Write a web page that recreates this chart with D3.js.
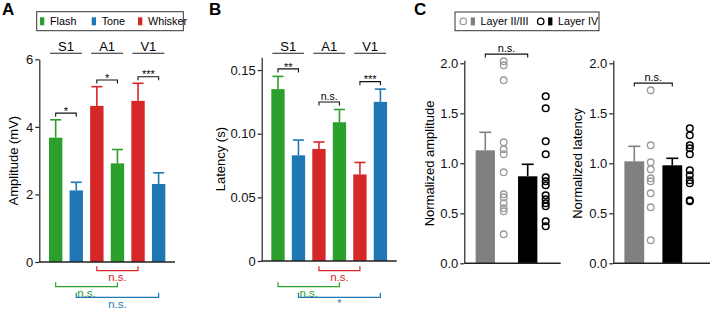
<!DOCTYPE html>
<html>
<head>
<meta charset="utf-8">
<script src="https://cdn.jsdelivr.net/npm/d3@7"></script>
<style>
  body { margin: 0; background: #fff; }
  svg { font-family: "Liberation Sans", Arial, sans-serif; }
</style>
</head>
<body>
<script>
// ---- data ----
var areas = ["S1", "S1", "A1", "A1", "V1", "V1"];
var stimuli = ["Flash", "Tone", "Whisker", "Flash", "Whisker", "Tone"];
var legendA = ["Flash", "Tone", "Whisker"];

var ampMean = [3.68, 2.12, 4.62, 2.92, 4.77, 2.31];
var ampSem = [0.53, 0.24, 0.57, 0.41, 0.52, 0.33];
var latMean = [0.135, 0.083, 0.088, 0.109, 0.068, 0.125];
var latSem = [0.010, 0.012, 0.0055, 0.010, 0.0094, 0.010];

var ampTicks = [0, 2, 4, 6];
var latTicks = [0, 0.05, 0.10, 0.15];
var normTicks = [0, 0.5, 1.0, 1.5, 2.0];

// within-area comparisons (S1, A1, V1)
var sigAmp = ["*", "*", "***"];
var sigLat = ["**", "n.s.", "***"];
// across-area comparisons: [bar from, bar to, stimulus, label]
var crossAmp = [[2, 4, "Whisker", "n.s."], [0, 3, "Flash", "n.s."], [1, 5, "Tone", "n.s."]];
var crossLat = [[2, 4, "Whisker", "n.s."], [0, 3, "Flash", "n.s."], [1, 5, "Tone", "*"]];

var layers = ["Layer II/III", "Layer IV"];
var normAmpMean = [1.13, 0.87];
var normAmpSem = [0.18, 0.12];
var normLatMean = [1.02, 0.98];
var normLatSem = [0.15, 0.07];
var ampL23 = [2.02, 1.98, 1.83, 1.21, 1.14, 1.09, 0.91, 0.69, 0.66, 0.60, 0.55, 0.52, 0.29];
var ampL4 = [1.67, 1.55, 1.22, 1.09, 0.86, 0.82, 0.78, 0.68, 0.64, 0.60, 0.57, 0.42, 0.37];
var latL23 = [1.73, 1.18, 1.01, 0.94, 0.85, 0.82, 0.70, 0.56, 0.23];
var latL4 = [1.35, 1.28, 1.18, 1.15, 1.09, 0.93, 0.88, 0.83, 0.80, 0.63, 0.62];

var color = d3.scaleOrdinal()
    .domain(["Flash", "Tone", "Whisker"])
    .range(["#2ca02c", "#1f77b4", "#d62728"]);
var layerFill = d3.scaleOrdinal().domain(layers).range(["#808080", "#000000"]);
var layerStroke = d3.scaleOrdinal().domain(layers).range(["#9a9a9a", "#000000"]);

var svg = d3.select("body").append("svg")
    .attr("width", 710)
    .attr("height", 309);

var axisColor = "#222";

function panelLetter(txt, x) {
    svg.append("text").attr("x", x).attr("y", 15)
        .attr("font-size", 17).attr("font-weight", "bold").text(txt);
}

function yAxis(y, x, ticks, fmt) {
    var ax = svg.append("g")
        .attr("transform", "translate(" + x + ",0)")
        .call(d3.axisLeft(y).tickValues(ticks).tickFormat(fmt)
            .tickSize(4).tickPadding(2).tickSizeOuter(0));
    ax.selectAll("path,line").attr("stroke", axisColor).attr("stroke-width", 1.2);
    ax.selectAll("text").attr("font-size", 13).attr("fill", "#111")
        .attr("font-family", "Liberation Sans, Arial, sans-serif");
    return ax;
}

function yTitle(txt, x, yc) {
    svg.append("text")
        .attr("transform", "translate(" + x + "," + yc + ") rotate(-90)")
        .attr("text-anchor", "middle").attr("font-size", 13).text(txt);
}

function bracketDown(x1, x2, yy, col) {
    svg.append("path")
        .attr("d", "M" + x1 + "," + (yy + 3.5) + "V" + yy + "H" + x2 + "V" + (yy + 3.5))
        .attr("fill", "none").attr("stroke", col).attr("stroke-width", 1.1);
}

function bracketUp(x1, x2, yy, col) {
    svg.append("path")
        .attr("d", "M" + x1 + "," + (yy - 4.5) + "V" + yy + "H" + x2 + "V" + (yy - 4.5))
        .attr("fill", "none").attr("stroke", col).attr("stroke-width", 1.2);
}

// ---- panels A and B ----
function barPanel(cfg) {
    var y = d3.scaleLinear().domain([0, cfg.top]).range([cfg.y0, cfg.yTop]);
    var x = d3.scaleBand().domain(d3.range(cfg.mean.length))
        .range([cfg.axisX, cfg.axisEnd]).paddingInner(0.35).paddingOuter(0.47);
    var bw = x.bandwidth();

    var bars = svg.append("g").selectAll("g")
        .data(cfg.mean.map(function (m, i) {
            return { m: m, s: cfg.sem[i], stim: stimuli[i], i: i };
        }))
        .enter().append("g");

    bars.append("line")
        .attr("x1", function (d) { return x(d.i) + bw / 2; })
        .attr("x2", function (d) { return x(d.i) + bw / 2; })
        .attr("y1", function (d) { return y(d.m); })
        .attr("y2", function (d) { return y(d.m + d.s); })
        .attr("stroke", function (d) { return color(d.stim); })
        .attr("stroke-width", 1.6);
    bars.append("line")
        .attr("x1", function (d) { return x(d.i) + bw / 2 - 5.5; })
        .attr("x2", function (d) { return x(d.i) + bw / 2 + 5.5; })
        .attr("y1", function (d) { return y(d.m + d.s); })
        .attr("y2", function (d) { return y(d.m + d.s); })
        .attr("stroke", function (d) { return color(d.stim); })
        .attr("stroke-width", 1.6);
    bars.append("rect")
        .attr("x", function (d) { return x(d.i); })
        .attr("width", bw)
        .attr("y", function (d) { return y(d.m); })
        .attr("height", function (d) { return y(0) - y(d.m); })
        .attr("fill", function (d) { return color(d.stim); });

    yAxis(y, cfg.axisX, cfg.ticks, cfg.fmt);
    svg.append("line")
        .attr("x1", cfg.axisX).attr("x2", cfg.axisEnd)
        .attr("y1", y(0)).attr("y2", y(0))
        .attr("stroke", axisColor).attr("stroke-width", 1.4);
    yTitle(cfg.title, cfg.titleX, (y(0) + y(cfg.top)) / 2);

    // area labels and within-area brackets
    for (var k = 0; k < 3; k++) {
        var a = 2 * k, b = 2 * k + 1;
        svg.append("line")
            .attr("x1", x(a) + 1).attr("x2", x(b) + bw - 1)
            .attr("y1", 53.3).attr("y2", 53.3)
            .attr("stroke", "#222").attr("stroke-width", 1.1);
        svg.append("text")
            .attr("x", (x(a) + x(b) + bw) / 2).attr("y", 50.5)
            .attr("text-anchor", "middle").attr("font-size", 13).text(areas[a]);

        var topVal = Math.max(cfg.mean[a] + cfg.sem[a], cfg.mean[b] + cfg.sem[b]);
        var by = y(topVal) - cfg.gap;
        var ca = x(a) + bw / 2, cb = x(b) + bw / 2;
        bracketDown(ca, cb, by, "#111");
        var lab = cfg.sig[k];
        svg.append("text")
            .attr("x", (ca + cb) / 2)
            .attr("y", lab === "n.s." ? by - 2 : by + 1.8)
            .attr("text-anchor", "middle")
            .attr("font-size", lab === "n.s." ? 10.5 : 11)
            .text(lab);
    }

    // across-area brackets below the axis
    var rows = [270.7, 286.7, 297.3];
    cfg.cross.forEach(function (c, r) {
        var c1 = x(c[0]) + bw / 2, c2 = x(c[1]) + bw / 2;
        var col = color(c[2]);
        bracketUp(c1, c2, rows[r], col);
        svg.append("text")
            .attr("x", (c1 + c2) / 2)
            .attr("y", c[3] === "*" ? rows[r] + 9.5 : rows[r] + 10.2)
            .attr("text-anchor", "middle")
            .attr("font-size", c[3] === "*" ? 11 : 11.5)
            .attr("fill", col)
            .text(c[3]);
    });
}

panelLetter("A", 2);
barPanel({
    mean: ampMean, sem: ampSem, top: 6, y0: 262, yTop: 59.3,
    axisX: 39.3, axisEnd: 175, ticks: ampTicks, fmt: d3.format("d"),
    title: "Amplitude (mV)", titleX: 17.5, sig: sigAmp, cross: crossAmp, gap: 6.6
});

panelLetter("B", 209);
barPanel({
    mean: latMean, sem: latSem, top: 0.16, y0: 261, yTop: 57.3,
    axisX: 261.7, axisEnd: 396.7, ticks: latTicks,
    fmt: function (d) { return d === 0 ? "0" : d3.format(".2f")(d); },
    title: "Latency (s)", titleX: 225, sig: sigLat, cross: crossLat, gap: 7.5
});

// legend A
var legA = svg.append("g");
legA.append("rect").attr("x", 36.7).attr("y", 11.7).attr("width", 146.6).attr("height", 19)
    .attr("fill", "none").attr("stroke", "#333").attr("stroke-width", 1);
var legX = [40, 91.7, 138];
legendA.forEach(function (s, i) {
    legA.append("rect").attr("x", legX[i]).attr("y", 17.3).attr("width", 4.3).attr("height", 8)
        .attr("fill", color(s));
    legA.append("text").attr("x", legX[i] + 10).attr("y", 25.2)
        .attr("font-size", 10.8).text(s);
});

// ---- panel C ----
function scatterPanel(cfg) {
    var y = d3.scaleLinear().domain([0, 2.03]).range([263.3, 60.3]);
    var x = d3.scalePoint().domain(layers).range(cfg.centers);
    var bw = cfg.bw;
    var g = svg.append("g");

    layers.forEach(function (L, i) {
        var cx = x(L);
        var m = cfg.mean[i], s = cfg.sem[i];
        g.append("line").attr("x1", cx).attr("x2", cx)
            .attr("y1", y(m)).attr("y2", y(m + s))
            .attr("stroke", layerFill(L)).attr("stroke-width", 1.6);
        g.append("line").attr("x1", cx - 6).attr("x2", cx + 6)
            .attr("y1", y(m + s)).attr("y2", y(m + s))
            .attr("stroke", layerFill(L)).attr("stroke-width", 1.6);
        g.append("rect").attr("x", cx - bw / 2).attr("width", bw)
            .attr("y", y(m)).attr("height", y(0) - y(m))
            .attr("fill", layerFill(L));
        g.selectAll(null).data(cfg.points[i]).enter().append("circle")
            .attr("cx", cx + cfg.off[i])
            .attr("cy", function (d) { return y(d); })
            .attr("r", 3.3)
            .attr("fill", "none")
            .attr("stroke", layerStroke(L))
            .attr("stroke-width", i === 0 ? 1.3 : 1.5);
    });

    yAxis(y, cfg.axisX, normTicks, d3.format(".1f"));
    svg.append("line")
        .attr("x1", cfg.axisX).attr("x2", cfg.axisEnd)
        .attr("y1", y(0)).attr("y2", y(0))
        .attr("stroke", axisColor).attr("stroke-width", 1.4);
    yTitle(cfg.title, cfg.titleX, 163.5);

    var topVal = d3.max(cfg.points[0].concat(cfg.points[1]));
    var by = y(topVal) - 7.2;
    var c1 = x(layers[0]), c2 = x(layers[1]);
    bracketDown(c1, c2, by, "#111");
    svg.append("text").attr("x", (c1 + c2) / 2).attr("y", by - 2.5)
        .attr("text-anchor", "middle").attr("font-size", 11).text("n.s.");
}

panelLetter("C", 414);
scatterPanel({
    mean: normAmpMean, sem: normAmpSem, points: [ampL23, ampL4],
    centers: [485.3, 527.7], bw: 19.3, off: [18.4, 18],
    axisX: 464.3, axisEnd: 560.7, title: "Normalized amplitude", titleX: 433.5
});
scatterPanel({
    mean: normLatMean, sem: normLatSem, points: [latL23, latL4],
    centers: [634.3, 672.3], bw: 19.8, off: [16.4, 17.5],
    axisX: 613.3, axisEnd: 710, title: "Normalized latency", titleX: 582
});

// legend C
var legC = svg.append("g");
legC.append("rect").attr("x", 455).attr("y", 12).attr("width", 144).attr("height", 18.7)
    .attr("fill", "none").attr("stroke", "#333").attr("stroke-width", 1);
var legCX = [463.3, 540.7];
layers.forEach(function (L, i) {
    legC.append("circle").attr("cx", legCX[i]).attr("cy", 21.4).attr("r", 3.2)
        .attr("fill", "none").attr("stroke", layerStroke(L)).attr("stroke-width", 1.3);
    legC.append("rect").attr("x", legCX[i] + 7.4).attr("y", 17.4).attr("width", 4.3).attr("height", 8)
        .attr("fill", layerFill(L));
    legC.append("text").attr("x", legCX[i] + 17.2).attr("y", 25.2)
        .attr("font-size", 10.8).text(L);
});
</script>
</body>
</html>
